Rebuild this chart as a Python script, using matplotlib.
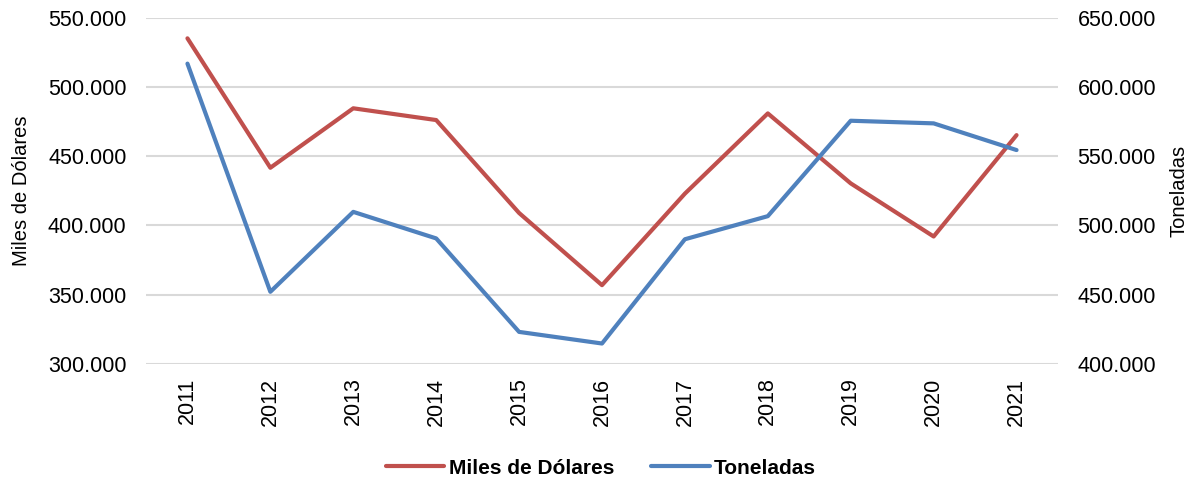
import matplotlib.pyplot as plt
from matplotlib.ticker import FuncFormatter, MultipleLocator

plt.rcParams['font.family'] = ['Liberation Sans', 'DejaVu Sans']

years = ['2011', '2012', '2013', '2014', '2015', '2016', '2017', '2018', '2019', '2020', '2021']
# Miles de Dólares (eje izquierdo)
miles_usd = [535300, 441700, 484700, 476200, 409000, 356800, 423000, 481000, 430400, 392000, 465300]
# Toneladas (eje derecho)
toneladas = [617000, 452000, 509800, 490600, 423000, 414600, 490000, 506700, 575700, 573800, 554500]

red = '#C0504D'
blue = '#4F81BD'

def fmt(v, pos):
    return f'{v:,.0f}'.replace(',', '.')

fig = plt.figure(figsize=(11.95, 4.79), dpi=100)
ax = fig.add_axes([146/1195, 1 - 363.7/479, 912/1195, 345.7/479])
ax2 = ax.twinx()

x = range(len(years))
l1, = ax.plot(x, miles_usd, color=red, lw=3, solid_capstyle='round', label='Miles de Dólares')
l2, = ax2.plot(x, toneladas, color=blue, lw=3, solid_capstyle='round', label='Toneladas')

ax.set_xlim(-0.5, len(years) - 0.5)
ax.set_ylim(300000, 550000)
ax2.set_ylim(400000, 650000)
ax.yaxis.set_major_locator(MultipleLocator(50000))
ax2.yaxis.set_major_locator(MultipleLocator(50000))
ax.yaxis.set_major_formatter(FuncFormatter(fmt))
ax2.yaxis.set_major_formatter(FuncFormatter(fmt))

ax.set_xticks(list(x))
ax.set_xticklabels(years, rotation=90)

ax.grid(axis='y', color='#D9D9D9', lw=1.5)
ax.set_axisbelow(True)
for a in (ax, ax2):
    for s in a.spines.values():
        s.set_visible(False)
    a.tick_params(length=0, labelsize=15.5, colors='black')
ax.tick_params(axis='y', pad=14)
ax2.tick_params(axis='y', pad=14)
ax.tick_params(axis='x', pad=10)

ax.set_ylabel('Miles de Dólares', fontsize=14.5, labelpad=12)
ax2.set_ylabel('Toneladas', fontsize=14.5, labelpad=10)

fig.legend([l1, l2], ['Miles de Dólares', 'Toneladas'], loc='center',
           bbox_to_anchor=(601/1195, 1 - 468/479), ncol=2, frameon=False,
           prop={'weight': 'bold', 'size': 15}, handlelength=2.8,
           handletextpad=0.2, columnspacing=1.8)

fig.savefig('out.png', dpi=100)
